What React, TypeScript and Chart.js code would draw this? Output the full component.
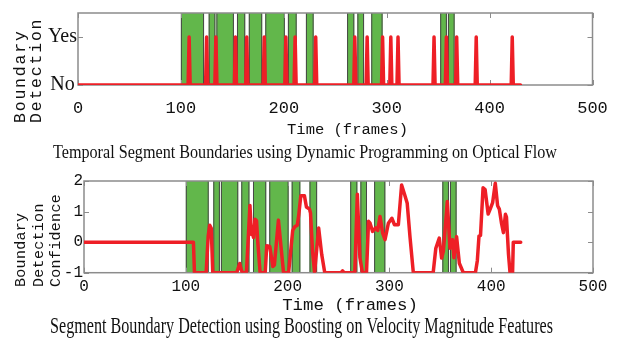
import React, { useEffect, useRef } from 'react';
import { Chart, registerables } from 'chart.js';

Chart.register(...registerables);

// ---------- data ----------
const xTickValues = [0, 100, 200, 300, 400, 500];

// ground-truth segments (frames), shared by both plots
const segmentStarts = [100, 127, 134.5, 154.5, 166, 182, 204, 221.5, 261.5, 271.5, 285, 352, 359.5];
const segmentEnds = [122.5, 133.5, 151.5, 162.5, 179, 201, 212.5, 229, 268.5, 278, 296, 358.5, 366];

// top: dynamic programming boundary detections (frames)
const dpSpikeFrames = [108, 125, 134, 153, 164, 181, 202, 211, 231, 269, 281, 296, 304, 311, 346, 358, 368, 387, 422];
const dpLastFrame = 430;
const dpYTickValues = [0, 1];
const dpYTickLabels = ['No', 'Yes'];

// bottom: boosting confidence
const boostFrames = [
  0, 107.5, 108.5, 120, 122, 123.5, 125, 126.5, 150, 151.5, 153, 154, 155.5, 159.5, 161, 163, 164.5, 165.5,
  166.5, 168, 169.5, 170.5, 173, 178, 179.5, 182.5, 185.5, 187, 191, 196, 201, 205, 207, 209.5, 211, 213,
  216.5, 218.5, 221.5, 222.5, 224.5, 226.5, 230.5, 233.5, 236.5, 252.5, 254, 255.5, 266, 268.5, 271, 273.5,
  277.5, 279.5, 281, 283.5, 286.5, 288.5, 290.8, 293.4, 295.7, 299, 302.4, 305, 308.8, 312, 315, 317.5,
  320.2, 323.5, 343, 345.6, 349, 351.3, 353, 356.9, 359.5, 362, 363.4, 366, 368.7, 372.6, 384.5, 386.4,
  388, 389.5, 392, 394, 397, 399, 401.4, 404, 406.3, 408, 410, 412, 414, 415, 417, 418.5, 421, 421.7, 429,
];
const boostValues = [
  0, 0, -1, -1, 0.2, 0.55, 0.45, -1, -1, -0.85, -0.7, -0.85, -1, -1, -0.1, 1.2, 0.25, 0.35,
  0.15, 0.75, 0.7, 0.1, -1, -1, -0.12, -0.14, -0.8, -0.75, 0.72, -1, -1, 0.38, 0.5, 0.55, 0.9, 1.52,
  1.52, 1.15, 1.08, 0.95, -0.3, -1, 0.46, -0.4, -1, -1, -0.94, -1, -1, 1.57, -0.5, -1,
  -1, 0.68, 0.62, 0.35, 0.47, 0.38, 0.84, 0.29, 0.08, 0.62, 0.78, 0.57, 0.57, 1.87, 1.55, 1.27,
  0.18, -1, -1, -0.2, 0.13, -0.52, -0.3, 1.33, -0.2, 0.08, -0.51, 0.18, -0.69, -1, -1, -0.6,
  0.2, 0.22, 1.78, 1.72, 0.92, 1.08, 1.29, 1.93, 1.19, 1.08, 0.64, 0.31, 0.91, 0.82, -0.4, -1, -1, 0, 0,
];
const boostYTickValues = [-1, 0, 1, 2];

const xTitleText = 'Time (frames)';
const topYTitleLines = ['Boundary', 'Detection'];
const bottomYTitleLines = ['Boundary', 'Detection', 'Confidence'];
const topCaption = 'Temporal Segment Boundaries using Dynamic Programming on Optical Flow';
const bottomCaption = 'Segment Boundary Detection using Boosting on Velocity Magnitude Features';

// ---------- styles ----------
const GREEN = '#62b74b';
const SEG_EDGE = '#474747';
const RED = '#ee1f26';
const FRAME = '#8c8c8c';
const MONO = '"Liberation Mono", "DejaVu Sans Mono", monospace';
const SERIF = '"Liberation Serif", "DejaVu Serif", serif';

const backdropPlugin = {
  id: 'backdrop',
  beforeDatasetsDraw(chart: any) {
    const { ctx, chartArea: a, scales } = chart;
    const x = scales.x;
    const y = scales.y;
    ctx.save();
    for (let i = 0; i < segmentStarts.length; i++) {
      const x0 = x.getPixelForValue(segmentStarts[i]);
      const x1 = x.getPixelForValue(segmentEnds[i]);
      ctx.fillStyle = GREEN;
      ctx.fillRect(x0, a.top, x1 - x0, a.bottom - a.top);
      ctx.strokeStyle = SEG_EDGE;
      ctx.lineWidth = 1;
      ctx.beginPath();
      ctx.moveTo(x0 + 0.5, a.top);
      ctx.lineTo(x0 + 0.5, a.bottom);
      ctx.moveTo(x1 - 0.5, a.top);
      ctx.lineTo(x1 - 0.5, a.bottom);
      ctx.stroke();
    }
    ctx.strokeStyle = FRAME;
    ctx.lineWidth = 1.5;
    ctx.strokeRect(a.left, a.top, a.right - a.left, a.bottom - a.top);
    ctx.lineWidth = 1;
    ctx.beginPath();
    const tl = 5;
    x.ticks.forEach((t: any) => {
      const px = Math.round(x.getPixelForValue(t.value)) + 0.5;
      ctx.moveTo(px, a.top);
      ctx.lineTo(px, a.top + tl);
      ctx.moveTo(px, a.bottom);
      ctx.lineTo(px, a.bottom - tl);
    });
    y.ticks.forEach((t: any) => {
      const py = Math.round(y.getPixelForValue(t.value)) + 0.5;
      ctx.moveTo(a.left, py);
      ctx.lineTo(a.left + tl, py);
      ctx.moveTo(a.right, py);
      ctx.lineTo(a.right - tl, py);
    });
    ctx.stroke();
    ctx.restore();
  },
};

const textsPlugin = {
  id: 'texts',
  afterDraw(chart: any, _args: any, o: any) {
    const { ctx } = chart;
    ctx.save();
    ctx.fillStyle = '#111';
    // x title
    ctx.font = `${o.xTitleSize}px ${MONO}`;
    ctx.textAlign = 'center';
    ctx.textBaseline = 'middle';
    ctx.fillText(xTitleText, o.xTitleX, o.xTitleY);
    // y title (rotated, bottom aligned)
    ctx.font = `${o.yTitleSize}px ${MONO}`;
    (ctx as any).letterSpacing = `${o.yTitleSpacing}px`;
    o.yTitleLines.forEach((line: string, i: number) => {
      ctx.save();
      ctx.translate(o.yTitleXs[i], o.yTitleStart);
      ctx.rotate(-Math.PI / 2);
      ctx.textAlign = 'left';
      ctx.textBaseline = 'middle';
      ctx.fillText(line, 0, 0);
      ctx.restore();
    });
    (ctx as any).letterSpacing = '0px';
    // caption
    ctx.font = `${o.captionSize}px ${SERIF}`;
    ctx.textAlign = 'center';
    ctx.textBaseline = 'alphabetic';
    ctx.fillText(o.caption, o.captionX, o.captionY, o.captionWidth);
    ctx.restore();
  },
};

function dpPoints() {
  const pts: { x: number; y: number }[] = [{ x: 0, y: 0 }];
  dpSpikeFrames.forEach((f) => {
    pts.push({ x: f - 1, y: 0 }, { x: f, y: 1 }, { x: f + 1, y: 0 });
  });
  pts.push({ x: dpLastFrame, y: 0 });
  return pts;
}

function boostPoints() {
  return boostFrames.map((f, i) => ({ x: f, y: boostValues[i] }));
}

function xScale(height: number, pad: number, size: number) {
  return {
    type: 'linear',
    min: 0,
    max: 500,
    afterBuildTicks: (s: any) => {
      s.ticks = xTickValues.map((v) => ({ value: v }));
    },
    afterFit: (s: any) => {
      s.height = height;
    },
    grid: { display: false, drawTicks: false },
    border: { display: false },
    ticks: { padding: pad, autoSkip: false, maxRotation: 0, color: '#111', font: { family: MONO, size } },
    title: { display: false },
  };
}

function TopChart() {
  const ref = useRef<HTMLCanvasElement>(null);
  useEffect(() => {
    const chart = new Chart(ref.current!, {
      type: 'line',
      data: {
        datasets: [
          {
            data: dpPoints(),
            borderColor: RED,
            borderWidth: 3.5,
            pointRadius: 0,
            tension: 0,
            fill: false,
            borderJoinStyle: 'round',
            borderCapStyle: 'round',
          },
        ],
      },
      options: {
        animation: false,
        responsive: false,
        maintainAspectRatio: false,
        layout: { padding: { left: 0, right: 34.5, top: 5, bottom: 31 } },
        plugins: {
          legend: { display: false },
          tooltip: { enabled: false },
          texts: {
            xTitleSize: 15.5,
            xTitleX: 347.5,
            xTitleY: 130,
            yTitleSize: 16.5,
            yTitleSpacing: 1.8,
            yTitleLines: topYTitleLines,
            yTitleXs: [21, 36.5],
            yTitleStart: 123,
            caption: topCaption,
            captionSize: 19,
            captionX: 305,
            captionY: 158,
            captionWidth: 504,
          },
        } as any,
        scales: {
          x: xScale(54, 12.8, 17) as any,
          y: {
            min: 0,
            max: 1.5,
            afterBuildTicks: (s: any) => {
              s.ticks = dpYTickValues.map((v) => ({ value: v }));
            },
            afterFit: (s: any) => {
              s.width = 78;
            },
            grid: { display: false, drawTicks: false },
            border: { display: false },
            ticks: {
              padding: 1,
              crossAlign: 'center',
              color: '#111',
              font: { family: SERIF, size: 20 },
              callback: (v: any) => dpYTickLabels[dpYTickValues.indexOf(Number(v))],
            },
          },
        },
      },
      plugins: [backdropPlugin, textsPlugin],
    });
    return () => chart.destroy();
  }, []);
  return <canvas ref={ref} width={627} height={170} style={{ display: 'block', width: 627, height: 170 }} />;
}

function BottomChart() {
  const ref = useRef<HTMLCanvasElement>(null);
  useEffect(() => {
    const chart = new Chart(ref.current!, {
      type: 'line',
      data: {
        datasets: [
          {
            data: boostPoints(),
            borderColor: RED,
            borderWidth: 3.5,
            pointRadius: 0,
            tension: 0,
            fill: false,
            borderJoinStyle: 'round',
            borderCapStyle: 'round',
          },
        ],
      },
      options: {
        animation: false,
        responsive: false,
        maintainAspectRatio: false,
        layout: { padding: { left: 0, right: 34, top: 11, bottom: 29.9 } },
        plugins: {
          legend: { display: false },
          tooltip: { enabled: false },
          texts: {
            xTitleSize: 17.4,
            xTitleX: 350,
            xTitleY: 135.7,
            yTitleSize: 15,
            yTitleSpacing: 0.3,
            yTitleLines: bottomYTitleLines,
            yTitleXs: [21, 39, 56],
            yTitleStart: 117,
            caption: bottomCaption,
            captionSize: 23,
            captionX: 301.5,
            captionY: 163.3,
            captionWidth: 503,
          },
        } as any,
        scales: {
          x: xScale(43.4, 4.7, 16) as any,
          y: {
            min: -1,
            max: 2,
            afterBuildTicks: (s: any) => {
              s.ticks = boostYTickValues.map((v) => ({ value: v }));
            },
            afterFit: (s: any) => {
              s.width = 84;
            },
            grid: { display: false, drawTicks: false },
            border: { display: false },
            ticks: { padding: 1, color: '#111', font: { family: MONO, size: 16 } },
          },
        },
      },
      plugins: [backdropPlugin, textsPlugin],
    });
    return () => chart.destroy();
  }, []);
  return <canvas ref={ref} width={627} height={176} style={{ display: 'block', width: 627, height: 176 }} />;
}

export default function App() {
  return (
    <div style={{ position: 'absolute', left: 0, top: 0, width: 627, height: 346, background: '#fff' }}>
      <TopChart />
      <BottomChart />
    </div>
  );
}
